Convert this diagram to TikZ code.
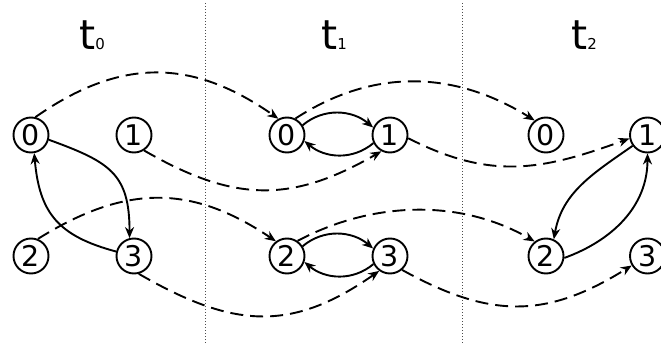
\documentclass[tikz,border=0pt]{standalone}
\usepackage{fontspec}
\setmainfont{DejaVu Sans}
\usetikzlibrary{arrows.meta}

\begin{document}
\begin{tikzpicture}[
  x=1pt,y=1pt,
  state/.style={circle,draw,line width=1.9pt,minimum size=35pt,inner sep=0pt,font=\fontsize{28.5}{28.5}\selectfont},
  flow/.style={-{Stealth[length=11pt,width=9pt,inset=3.5pt]},line width=1.9pt},
  hop/.style={flow,dash pattern=on 13pt off 7pt},
  stamp/.style={anchor=base,inner sep=0pt,font=\fontsize{41}{41}\selectfont},
  sep/.style={draw=black!70,line width=0.8pt,dash pattern=on 1pt off 2pt}
]
\useasboundingbox (0,0) rectangle (661,-347);

\draw[sep] (205,-3) -- (205,-343);
\draw[sep] (462,-3) -- (462,-343);

\node[stamp] (lab0) at (92,-50) {t{\fontsize{15}{15}\selectfont 0}};
\node[stamp] (lab1) at (334,-50) {t{\fontsize{15}{15}\selectfont 1}};
\node[stamp] (lab2) at (584,-50) {t{\fontsize{15}{15}\selectfont 2}};

\node[state] (a0) at (31,-135) {0};
\node[state] (a1) at (134,-135) {1};
\node[state] (a2) at (31,-256) {2};
\node[state] (a3) at (134,-256) {3};

\node[state] (b0) at (287,-135) {0};
\node[state] (b1) at (390,-135) {1};
\node[state] (b2) at (287,-256) {2};
\node[state] (b3) at (390,-256) {3};

\node[state] (c0) at (546,-135) {0};
\node[state] (c1) at (647.5,-135) {1};
\node[state] (c2) at (546,-256) {2};
\node[state] (c3) at (647.5,-256) {3};

\draw[flow] (a0.-15) to[out=-20,in=90,looseness=1.3] (a3.104);
\draw[flow] (a3.166) to[out=165,in=-85,looseness=1.2] (a0.-80);
\draw[flow] (b0.32) to[out=40,in=140] (b1.156);
\draw[flow] (b1.206) to[out=220,in=-40] (b0.-19);
\draw[flow] (b2.32) to[out=40,in=140] (b3.156);
\draw[flow] (b3.206) to[out=220,in=-40] (b2.-19);
\draw[flow] (c2.-6) to[out=20,in=-90] (c1.-90);
\draw[flow] (c1.216) to[out=215,in=80] (c2.65);

\draw[hop] (a0.76) to[out=35,in=145,looseness=1.1] (b0.118);
\draw[hop] (a1.-57) to[out=-30,in=210,looseness=1.12] (b1.242);
\draw[hop] (a2.68) to[out=32,in=146,looseness=1.1] (b2.127);
\draw[hop] (a3.-75) to[out=-30,in=215,looseness=1.15] (b3.234);
\draw[hop] (b0.63) to[out=33,in=148] (c0.128);
\draw[hop] (b1.-10) to[out=-27,in=200,looseness=1.08] (c1.191);
\draw[hop] (b2.55) to[out=28,in=150,looseness=0.92] (c2.128);
\draw[hop] (b3.-49) to[out=-29,in=212,looseness=1.12] (c3.211);
\end{tikzpicture}
\end{document}
